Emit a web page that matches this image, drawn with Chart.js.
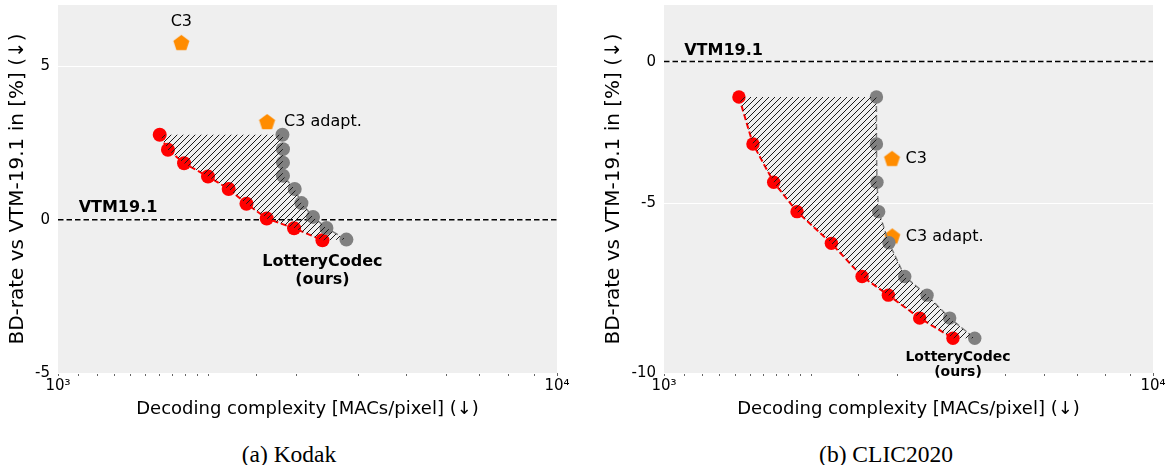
<!DOCTYPE html>
<html>
<head>
<meta charset="utf-8">
<script src="https://cdn.jsdelivr.net/npm/chart.js@4.4.1/dist/chart.umd.min.js"></script>
<style>
  body { margin: 0; background: #fff; width: 1169px; height: 465px; position: relative; overflow: hidden; }
  canvas { position: absolute; top: 0; }
  #kodak { left: 0; }
  #clic { left: 584px; }
  .cap { position: absolute; top: 440px; height: 28px; line-height: 28px; text-align: center;
         font-family: "Liberation Serif", "DejaVu Serif", serif; font-size: 23.5px; color: #000; width: 300px; }
</style>
</head>
<body>
<canvas id="kodak" width="584" height="425"></canvas>
<canvas id="clic" width="585" height="425"></canvas>
<div class="cap" style="left:139px">(a) Kodak</div>
<div class="cap" style="left:736px">(b) CLIC2020</div>
<script>
// Kodak: LotteryCodec front (red) vs. its base configurations (gray)
const kodakOursX = [1599, 1661, 1789, 1998, 2198, 2386, 2620, 2972, 3388];
const kodakOursY = [2.77, 2.28, 1.84, 1.41, 1.00, 0.52, 0.04, -0.28, -0.67];
const kodakBaseX = [2817, 2824, 2824, 2824, 2981, 3075, 3244, 3451, 3784];
const kodakBaseY = [2.77, 2.30, 1.86, 1.43, 1.00, 0.54, 0.09, -0.27, -0.65];
const kodakC3X = [1767, 2624];
const kodakC3Y = [5.75, 3.17];
const kodakYTicks = [-5, 0, 5];
const kodakYLabels = ['-5', '0', '5'];

// CLIC2020
const clicOursX = [1423, 1520, 1676, 1871, 2199, 2541, 2876, 3333, 3899];
const clicOursY = [-1.25, -2.91, -4.26, -5.30, -6.42, -7.59, -8.25, -9.06, -9.77];
const clicBaseX = [2719, 2719, 2726, 2748, 2884, 3107, 3451, 3839, 4320];
const clicBaseY = [-1.25, -2.91, -4.26, -5.30, -6.40, -7.59, -8.25, -9.06, -9.77];
const clicC3X = [2926, 2930];
const clicC3Y = [-3.45, -6.19];
const clicYTicks = [-11, -5, 0];
const clicYLabels = ['-10', '-5', '0'];

const c3Names = ['C3', 'C3 adapt.'];
const vtmX = [1000, 10000];
const vtmY = [0, 0];
const xTickLabels = {1000: '10³', 10000: '10⁴'};

const FONT = '"DejaVu Sans", sans-serif';

const pts = (xs, ys) => xs.map((x, i) => ({x, y: ys[i]}));

function pentagon(r, color) {
  const c = document.createElement('canvas');
  const s = Math.ceil(r * 2) + 2;
  c.width = c.height = s;
  const g = c.getContext('2d');
  g.fillStyle = color;
  g.beginPath();
  for (let i = 0; i < 5; i++) {
    const a = -Math.PI / 2 + i * 2 * Math.PI / 5;
    g.lineTo(s / 2 + r * Math.cos(a), s / 2 + r * Math.sin(a));
  }
  g.closePath();
  g.fill();
  return c;
}

function hatch() {
  const c = document.createElement('canvas');
  c.width = c.height = 6;
  const g = c.getContext('2d');
  g.strokeStyle = '#1a1a1a';
  g.lineWidth = 1;
  g.beginPath();
  g.moveTo(0, 6); g.lineTo(6, 0);
  g.moveTo(-1, 1); g.lineTo(1, -1);
  g.moveTo(5, 7); g.lineTo(7, 5);
  g.stroke();
  return g.createPattern(c, 'repeat');
}

const plotBg = {
  id: 'plotBg',
  beforeDraw(chart) {
    const {ctx, chartArea: a} = chart;
    ctx.save();
    ctx.fillStyle = '#efefef';
    ctx.fillRect(a.left, a.top, a.right - a.left, a.bottom - a.top);
    ctx.restore();
  }
};

// text notes anchored to data values, offset in px
const notes = {
  id: 'notes',
  afterDatasetsDraw(chart, args, opts) {
    const {ctx, scales: {x, y}} = chart;
    ctx.save();
    ctx.fillStyle = '#000';
    ctx.textBaseline = 'middle';
    for (const n of opts.items) {
      ctx.font = `${n.bold ? 'bold ' : ''}${n.size}px ${FONT}`;
      ctx.textAlign = n.align || 'center';
      ctx.fillText(n.text, x.getPixelForValue(n.x) + (n.dx || 0), y.getPixelForValue(n.y) + (n.dy || 0));
    }
    ctx.restore();
  }
};

function makeChart(id, d) {
  const polygon = pts(d.oursX, d.oursY).concat(pts(d.baseX, d.baseY).reverse());
  new Chart(document.getElementById(id), {
    type: 'scatter',
    data: {
      datasets: [
        { data: polygon, showLine: true, fill: 'shape', backgroundColor: hatch(),
          borderWidth: 0, borderColor: 'transparent', pointRadius: 0 },
        { data: pts(d.baseX, d.baseY), showLine: true, borderColor: '#808080', borderWidth: 1.5,
          borderDash: [6, 3], backgroundColor: '#808080', pointRadius: d.r, pointBorderWidth: 0 },
        { data: pts(d.oursX, d.oursY), showLine: true, borderColor: '#ff0000', borderWidth: 2,
          borderDash: [6, 3], backgroundColor: '#ff0000', pointRadius: d.r, pointBorderWidth: 0 },
        { data: pts(d.c3X, d.c3Y), pointStyle: pentagon(8.4, '#ff8c00'), pointRadius: 8 },
        { data: pts(vtmX, vtmY), showLine: true, borderColor: '#000', borderWidth: 1.5,
          borderDash: [5.5, 3], pointRadius: 0 }
      ]
    },
    options: {
      responsive: false,
      animation: false,
      devicePixelRatio: 1,
      layout: { autoPadding: false, padding: { left: 0, right: d.padRight, top: 5, bottom: 0 } },
      plugins: {
        legend: { display: false },
        tooltip: { enabled: false },
        notes: { items: d.notes }
      },
      scales: {
        x: {
          type: 'logarithmic', min: 1000, max: 10000,
          afterFit: s => { s.height = 52; s.paddingLeft = 0; s.paddingRight = 0; },
          border: { display: false },
          grid: { drawOnChartArea: false, drawTicks: true, tickLength: 3, tickColor: '#666' },
          ticks: { autoSkip: false, maxRotation: 0, padding: 1, color: '#000',
                   font: { family: FONT, size: 15 },
                   callback: v => xTickLabels[v] || '' },
          title: { display: true, text: 'Decoding complexity [MACs/pixel] (↓)', color: '#000',
                   font: { family: FONT, size: 18 }, padding: { top: 0, bottom: 5 } }
        },
        y: {
          min: d.yMin, max: d.yMax,
          afterFit: s => { s.width = d.yWidth; s.paddingTop = 0; s.paddingBottom = 0; },
          afterBuildTicks: s => { s.ticks = d.yTicks.map(v => ({value: v})); },
          border: { display: false },
          grid: { color: '#ffffff', lineWidth: 1, drawTicks: false },
          ticks: { padding: 8, color: '#000', font: { family: FONT, size: 15 },
                   callback: v => d.yLabels[d.yTicks.indexOf(v)] },
          title: { display: true, text: 'BD-rate vs VTM-19.1 in [%] (↓)', color: '#000',
                   font: { family: FONT, size: 20 }, padding: { top: d.titlePad, bottom: 0 } }
        }
      }
    },
    plugins: [plotBg, notes]
  });
}

makeChart('kodak', {
  oursX: kodakOursX, oursY: kodakOursY, baseX: kodakBaseX, baseY: kodakBaseY,
  c3X: kodakC3X, c3Y: kodakC3Y, yTicks: kodakYTicks, yLabels: kodakYLabels,
  yMin: -5, yMax: 7, yWidth: 58, padRight: 27, titlePad: 6, r: 7,
  notes: [
    { text: c3Names[0], x: kodakC3X[0], y: kodakC3Y[0], dy: -21.5, size: 16 },
    { text: c3Names[1], x: kodakC3X[1], y: kodakC3Y[1], dx: 17, dy: -1, size: 16, align: 'left' },
    { text: 'VTM19.1', x: 1100, y: 0, dy: -12, size: 16, bold: true, align: 'left' },
    { text: 'LotteryCodec', x: kodakOursX[8], y: kodakOursY[8], dy: 21.5, size: 16, bold: true },
    { text: '(ours)', x: kodakOursX[8], y: kodakOursY[8], dy: 40, size: 16, bold: true }
  ]
});

makeChart('clic', {
  oursX: clicOursX, oursY: clicOursY, baseX: clicBaseX, baseY: clicBaseY,
  c3X: clicC3X, c3Y: clicC3Y, yTicks: clicYTicks, yLabels: clicYLabels,
  yMin: -11, yMax: 2, yWidth: 80, padRight: 16, titlePad: 18, r: 6.7,
  notes: [
    { text: c3Names[0], x: clicC3X[0], y: clicC3Y[0], dx: 13.5, size: 16, align: 'left' },
    { text: c3Names[1], x: clicC3X[1], y: clicC3Y[1], dx: 13.5, size: 16, align: 'left' },
    { text: 'VTM19.1', x: 1100, y: 0, dy: -11, size: 16, bold: true, align: 'left' },
    { text: 'LotteryCodec', x: clicOursX[8], y: clicOursY[8], dx: 5, dy: 19, size: 14, bold: true },
    { text: '(ours)', x: clicOursX[8], y: clicOursY[8], dx: 5, dy: 34, size: 14, bold: true }
  ]
});
</script>
</body>
</html>
